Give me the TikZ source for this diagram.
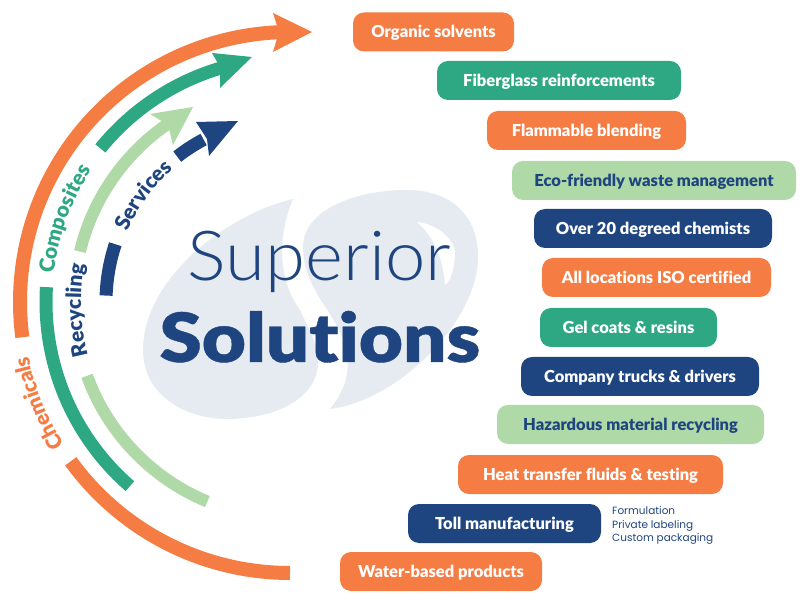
\documentclass[tikz,border=0pt]{standalone}
\usepackage{fontspec}
\usetikzlibrary{positioning,decorations.text}
\setmainfont{Lato}
\newfontfamily\thinfont[FakeStretch=1.05]{Lato Light}
\newfontfamily\heavyfont[Ligatures=NoCommon]{Lato Black}
\newfontfamily\widefont[Ligatures=NoCommon,FakeStretch=1.12,FakeBold=0.6]{Lato Black}
\newfontfamily\notefont{Poppins}
\definecolor{sborange}{HTML}{F57C43}
\definecolor{sbgreen}{HTML}{2EA882}
\definecolor{sblight}{HTML}{AFD9A6}
\definecolor{sbnavy}{HTML}{1F4580}
\definecolor{sbdrop}{HTML}{E6EAF1}
\tikzset{
bubble/.style={shape=rectangle, rounded corners=11pt, minimum height=39pt, inner sep=0pt, text height=14pt, text depth=2pt, text=white, font=\heavyfont\fontsize{16.5}{18}\selectfont},
band/.style={line width=#1},
arclabel/.style={decorate, decoration={text along path, text align=center, text={#1}}},
}
\newcommand{\bandfont}{\heavyfont\fontsize{21}{24}\selectfont}
\begin{document}
\begin{tikzpicture}[x=1pt, y=1pt]
\useasboundingbox (0,0) rectangle (800,600);
\coordinate (hub) at (290,298);
% logo drops
\fill[sbdrop] (293,401) .. controls (225,385) and (143,320) .. (143,250)
   .. controls (143,205) and (185,181) .. (227,181)
   .. controls (280,181) and (318,205) .. (318,237)
   .. controls (318,258) and (308,272) .. (300,290)
   .. controls (285,310) and (272,350) .. (293,401) -- cycle;
\fill[sbdrop] (330,191) .. controls (400,200) and (478,280) .. (478,343)
   .. controls (478,390) and (445,410) .. (407,410)
   .. controls (355,410) and (303,390) .. (303,353)
   .. controls (303,330) and (312,315) .. (322,298)
   .. controls (345,265) and (362,230) .. (330,191) -- cycle;
\fill[white] (417,378) .. controls (435,376) and (450,365) .. (455,350)
   .. controls (455,335) and (452,320) .. (445,315)
   .. controls (443,345) and (432,365) .. (417,378) -- cycle;
% arcs
\draw[band=14pt, sborange] (hub) ++(187.5:270) arc (187.5:91:270);
\draw[band=14pt, sborange] (hub) ++(216:271) arc (216:270:271);
\fill[sborange] (273,587) -- (312,568) -- (273,548) -- (279,568) -- cycle;
\draw[band=13pt, sbgreen] (hub) ++(229:244) arc (229:176.5:244);
\draw[band=13pt, sbgreen] (hub) ++(141:244) arc (141:106:244);
\fill[sbgreen] (212,547) -- (252,543) -- (220,512) -- (220,533) -- cycle;
\draw[band=12pt, sblight] (hub) ++(247.5:216) arc (247.5:200:216);
\draw[band=12pt, sblight] (hub) ++(166.5:216) arc (166.5:124:216);
\fill[sblight] (150,486) -- (193,493) -- (173,455) -- (168,475) -- cycle;
\draw[band=13pt, sbnavy] (hub) ++(178:184) arc (178:161.7:184);
\draw[band=13pt, sbnavy] (hub) ++(127.8:184) arc (127.8:118:184);
\fill[sbnavy] (196,478) -- (238,479) -- (209,444) -- (207,461) -- cycle;
% arc labels
\path[arclabel={|\color{sborange}\bandfont|Chemicals}] (hub) ++(214:267) arc (214:190:267);
\path[arclabel={|\color{sbgreen}\bandfont|Composites}] (hub) ++(174:238) arc (174:145.5:238);
\path[arclabel={|\color{sbnavy}\bandfont|Recycling}] (hub) ++(195.5:209) arc (195.5:169:209);
\path[arclabel={|\color{sbnavy}\bandfont|Services}] (hub) ++(157:177) arc (157:130.8:177);
% title
\node[anchor=base, text=sbnavy, font=\thinfont\fontsize{69}{72}\selectfont] (superior) at (319.5,319) {Superior};
\node[anchor=base, text=sbnavy, font=\widefont\fontsize{68}{72}\selectfont] (solutions) at (320,238) {Solutions};
% bubbles
\node[bubble, fill=sborange, minimum width=161pt] (organic) at (433.5,568) {Organic solvents};
\node[bubble, fill=sbgreen, minimum width=244pt] (fiberglass) at (559,519.5) {Fiberglass reinforcements};
\node[bubble, fill=sborange, minimum width=199pt] (flammable) at (586.5,469.5) {Flammable blending};
\node[bubble, fill=sblight, text=sbnavy, minimum width=284pt] (eco) at (654,419.5) {Eco-friendly waste management};
\node[bubble, fill=sbnavy, minimum width=238pt] (chemists) at (653,371.5) {Over 20 degreed chemists};
\node[bubble, fill=sborange, minimum width=229pt] (iso) at (656.5,322.5) {All locations ISO certified};
\node[bubble, fill=sbgreen, minimum width=177pt] (gel) at (628.5,272.5) {Gel coats \& resins};
\node[bubble, fill=sbnavy, minimum width=238pt] (trucks) at (640,223.5) {Company trucks \& drivers};
\node[bubble, fill=sblight, text=sbnavy, minimum width=267pt] (hazardous) at (630.5,175.5) {Hazardous material recycling};
\node[bubble, fill=sborange, minimum width=265pt] (heat) at (590.5,125.5) {Heat transfer fluids \& testing};
\node[bubble, fill=sbnavy, minimum width=193pt] (toll) at (504.5,76.5) {Toll manufacturing};
\node[bubble, fill=sborange, minimum width=202pt] (water) at (441,28.5) {Water-based products};
% toll list
\node[anchor=west, align=left, inner sep=0pt, text=sbnavy, font=\notefont\fontsize{10.5}{13.5}\selectfont] (tolllist) at (612,74.5) {Formulation\\Private labeling\\Custom packaging};
\end{tikzpicture}
\end{document}
